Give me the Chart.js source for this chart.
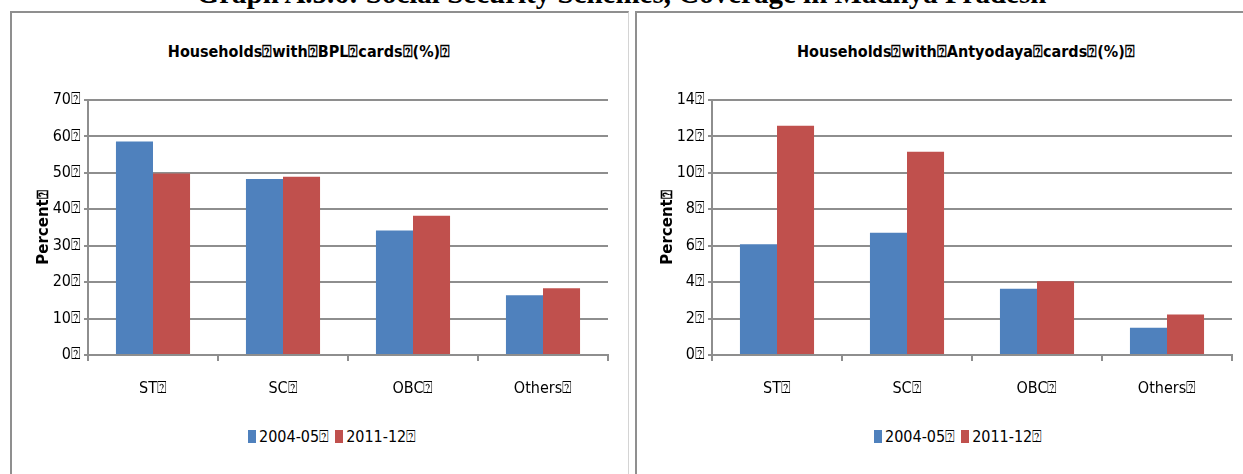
<!DOCTYPE html>
<html>
<head>
<meta charset="utf-8">
<script src="https://cdn.jsdelivr.net/npm/chart.js@4.4.1/dist/chart.umd.min.js"></script>
<style>
  html, body { margin: 0; padding: 0; background: #fff; }
  body { width: 1243px; height: 474px; position: relative; overflow: hidden; }
  .headline {
    position: absolute; left: 0; width: 1243px; top: -21px; text-align: center;
    font: bold 29px "Liberation Serif", "Times New Roman", serif; line-height: 1; color: #000;
    white-space: nowrap;
  }
  .frame { position: absolute; top: 11px; height: 470px; border-top: 2px solid #8f8f8f; border-left: 2px solid #8f8f8f; }
  #frame-left { left: 10px; width: 616px; border-right: 1px solid #d4d4d4; }
  #frame-right { left: 635px; width: 620px; }
  canvas { position: absolute; }
  .title {
    position: absolute; top: 42px; text-align: center; white-space: nowrap;
    font: bold 16px "DejaVu Sans Condensed", sans-serif; color: #000;
  }
  .legend {
    position: absolute; top: 427px; display: flex; align-items: center; gap: 3px; white-space: nowrap;
    font: 16px "DejaVu Sans Condensed", sans-serif; color: #000;
  }
  .legend .sw { display: inline-block; width: 8px; height: 13px; }
  .legend .item { display: flex; align-items: center; gap: 3px; margin-right: 3px; }
</style>
</head>
<body>
<div class="headline">Graph A.5.6: Social Security Schemes, Coverage in Madhya Pradesh</div>
<div class="frame" id="frame-left"></div>
<div class="frame" id="frame-right"></div>

<div class="title" id="title-left" style="left:159px;width:300px;"></div>
<div class="title" id="title-right" style="left:797px;width:300px;"></div>
<div class="legend" id="legend-left" style="left:248px;"></div>
<div class="legend" id="legend-right" style="left:874px;"></div>

<canvas id="chart-left" width="617" height="462" style="left:11px;top:12px;width:617px;height:462px;"></canvas>
<canvas id="chart-right" width="606" height="462" style="left:637px;top:12px;width:606px;height:462px;"></canvas>

<script>
// ─── Data ────────────────────────────────────────────────────────────────────

const Q = "\u2370"; // the boxed "?" glyph that replaces spaces in the original
const categories = ["ST", "SC", "OBC", "Others"];
const seriesNames = ["2004-05", "2011-12"];

const bpl2004 = [58.6, 48.3, 34.2, 16.4];
const bpl2011 = [49.8, 48.9, 38.2, 18.3];
const bplTicks = [0, 10, 20, 30, 40, 50, 60, 70];

const antyodaya2004 = [6.08, 6.71, 3.64, 1.49];
const antyodaya2011 = [12.58, 11.16, 4.05, 2.23];
const antyodayaTicks = [0, 2, 4, 6, 8, 10, 12, 14];

// ─── Style ───────────────────────────────────────────────────────────────────

const BLUE = "#4f81bd";
const RED = "#c0504d";
const GRID = "#8e8e8e";
const NARROW = '"DejaVu Sans Condensed", sans-serif';

function withBox(s) {
  return s + Q;
}

function renderLegend(id) {
  const colors = [BLUE, RED];
  document.getElementById(id).innerHTML = seriesNames
    .map(
      (name, i) => `
      <span class="item"><span class="sw" style="background:${colors[i]}"></span><span>${withBox(name)}</span></span>`,
    )
    .join("");
}

function renderChart(canvasId, v1, v2, ticks, area) {
  const ctx = document.getElementById(canvasId).getContext("2d");
  const step = ticks[1] - ticks[0];
  const canvasW = ctx.canvas.width;
  const canvasH = ctx.canvas.height;

  return new Chart(ctx, {
    type: "bar",
    data: {
      labels: categories.map(withBox),
      datasets: [
        { label: withBox(seriesNames[0]), data: v1, backgroundColor: BLUE },
        { label: withBox(seriesNames[1]), data: v2, backgroundColor: RED },
      ],
    },
    options: {
      responsive: false,
      animation: false,
      devicePixelRatio: 1,
      layout: {
        padding: { left: area.padLeft, right: canvasW - area.right, top: area.top, bottom: 0 },
      },
      datasets: { bar: { categoryPercentage: 0.57, barPercentage: 1.0 } },
      plugins: { legend: { display: false }, title: { display: false }, tooltip: { enabled: false } },
      scales: {
        x: {
          grid: { offset: true, drawOnChartArea: false, drawTicks: true, tickLength: 6, color: GRID, lineWidth: 2 },
          border: { color: GRID, width: 2 },
          ticks: { color: "#000", padding: 18, font: { family: NARROW, size: 16 } },
          afterFit: (s) => { s.height = canvasH - area.bottom; },
        },
        y: {
          min: ticks[0],
          max: ticks[ticks.length - 1],
          grid: { color: GRID, lineWidth: 2, drawTicks: true, tickLength: 4 },
          border: { color: GRID, width: 2 },
          ticks: {
            stepSize: step,
            padding: 3,
            color: "#000",
            font: { family: NARROW, size: 16 },
            callback: (v) => withBox(String(v)),
          },
          title: {
            display: true,
            text: withBox("Percent"),
            color: "#000",
            padding: { top: 4, bottom: 4 },
            font: { family: '"DejaVu Sans", sans-serif', size: 15, weight: "bold" },
          },
          afterFit: (s) => { s.width = area.left - area.padLeft; },
        },
      },
    },
  });
}

document.getElementById("title-left").textContent =
  ["Households", "with", "BPL", "cards", "(%)"].map(withBox).join("");
document.getElementById("title-right").textContent =
  ["Households", "with", "Antyodaya", "cards", "(%)"].map(withBox).join("");

renderLegend("legend-left");
renderLegend("legend-right");

renderChart("chart-left", bpl2004, bpl2011, bplTicks, { padLeft: 20, left: 77, right: 597, top: 88, bottom: 343 });
renderChart("chart-right", antyodaya2004, antyodaya2011, antyodayaTicks, { padLeft: 18, left: 75, right: 595, top: 88, bottom: 343 });
</script>
</body>
</html>
